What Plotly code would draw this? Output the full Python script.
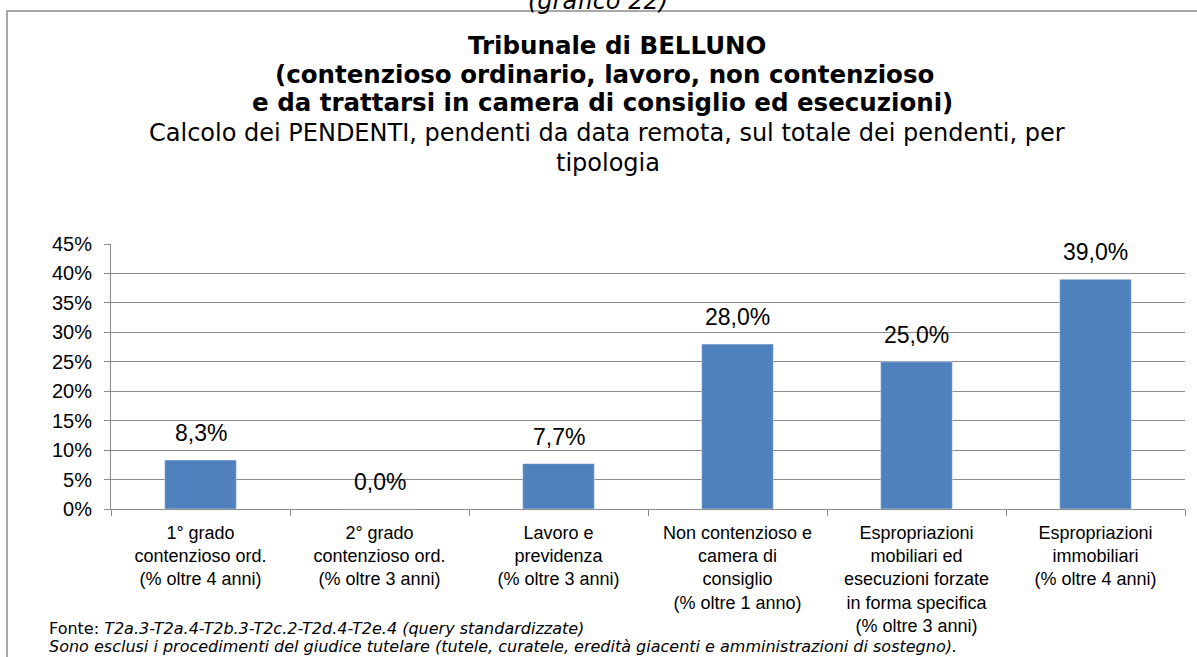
import plotly.graph_objects as go

categories = [
    "1° grado<br>contenzioso ord.<br>(% oltre 4 anni)",
    "2° grado<br>contenzioso ord.<br>(% oltre 3 anni)",
    "Lavoro e<br>previdenza<br>(% oltre 3 anni)",
    "Non contenzioso e<br>camera di<br>consiglio<br>(% oltre 1 anno)",
    "Espropriazioni<br>mobiliari ed<br>esecuzioni forzate<br>in forma specifica<br>(% oltre 3 anni)",
    "Espropriazioni<br>immobiliari<br>(% oltre 4 anni)",
]
values = [8.3, 0.0, 7.7, 28.0, 25.0, 39.0]
y_ticks = [0, 5, 10, 15, 20, 25, 30, 35, 40, 45]
y_tick_labels = [f"{t}%" for t in y_ticks]
value_labels = [f"{v:.1f}%".replace(".", ",") for v in values]

W, H = 1197, 657
ML, MR, MT, MB = 111, 12, 244, 148
PW, PH = W - ML - MR, H - MT - MB

def px_x(px):
    return (px - ML) / PW

def px_y(py):
    return (H - MB - py) / PH

fig = go.Figure()
fig.add_trace(go.Bar(
    x=categories, y=values, marker_color="#4F81BD", width=0.4,
    hoverinfo="skip",
))

ann = []
for c, v, lab in zip(categories, values, value_labels):
    ann.append(dict(x=c, y=v, xref="x", yref="y", text=lab, showarrow=False,
                    yanchor="bottom", yshift=12,
                    font=dict(family="Liberation Sans", size=23, color="black")))

bold_font = dict(family="DejaVu Sans", size=24.5, color="black")
sub_font = dict(family="DejaVu Sans", size=24, color="black")
title_lines = [
    ("<b>Tribunale di BELLUNO</b>", 617, 46, bold_font),
    ("<b>(contenzioso ordinario, lavoro, non contenzioso</b>", 604, 75, bold_font),
    ("<b>e da trattarsi in camera di consiglio ed esecuzioni)</b>", 602, 103, bold_font),
    ("Calcolo dei PENDENTI, pendenti da data remota, sul totale dei pendenti, per", 607, 133, sub_font),
    ("tipologia", 608, 163, sub_font),
]
for t, x, y, f in title_lines:
    ann.append(dict(x=px_x(x), y=px_y(y), xref="paper", yref="paper", text=t,
                    showarrow=False, xanchor="center", yanchor="middle",
                    font=f))

ann.append(dict(x=px_x(598), y=px_y(1), xref="paper", yref="paper",
                text="<i>(grafico 22)</i>", showarrow=False,
                xanchor="center", yanchor="middle", font=sub_font))

foot_font = dict(family="DejaVu Sans", size=16, color="black")
ann.append(dict(x=px_x(47), y=px_y(628), xref="paper", yref="paper",
                text="Fonte: <i>T2a.3-T2a.4-T2b.3-T2c.2-T2d.4-T2e.4 (query standardizzate)</i>",
                showarrow=False, xanchor="left", yanchor="middle", font=foot_font))
ann.append(dict(x=px_x(47), y=px_y(646), xref="paper", yref="paper",
                text="<i>Sono esclusi i procedimenti del giudice tutelare (tutele, curatele, eredità giacenti e amministrazioni di sostegno).</i>",
                showarrow=False, xanchor="left", yanchor="middle", font=foot_font))

fig.update_layout(
    width=W, height=H,
    margin=dict(l=ML, r=MR, t=MT, b=MB),
    paper_bgcolor="white", plot_bgcolor="white",
    showlegend=False,
    annotations=ann,
    shapes=[dict(type="rect", xref="paper", yref="paper",
                 x0=px_x(7), x1=px_x(1210), y0=px_y(700), y1=px_y(11),
                 line=dict(color="#8c8c8c", width=1.5), fillcolor="rgba(0,0,0,0)",
                 layer="below")],
)
fig.update_yaxes(
    range=[0, 45], tickvals=y_ticks, ticktext=y_tick_labels,
    showgrid=True, gridcolor="#8c8c8c", gridwidth=1,
    showline=True, linecolor="#8c8c8c", linewidth=1,
    ticks="outside", ticklen=6, tickcolor="#8c8c8c",
    ticklabelstandoff=8,
    tickfont=dict(family="Liberation Sans", size=20, color="black"),
    zeroline=False,
)
fig.update_xaxes(
    showline=True, linecolor="#8c8c8c", linewidth=1,
    ticks="outside", ticklen=6, tickcolor="#8c8c8c", tickson="boundaries",
    tickangle=0, ticklabelstandoff=7,
    tickfont=dict(family="Liberation Sans", size=18, color="black"),
    showgrid=False,
)

fig.write_html("out.html",
               config={"displayModeBar": False},
               post_script="document.body.style.margin='0';document.body.style.overflow='hidden';")
